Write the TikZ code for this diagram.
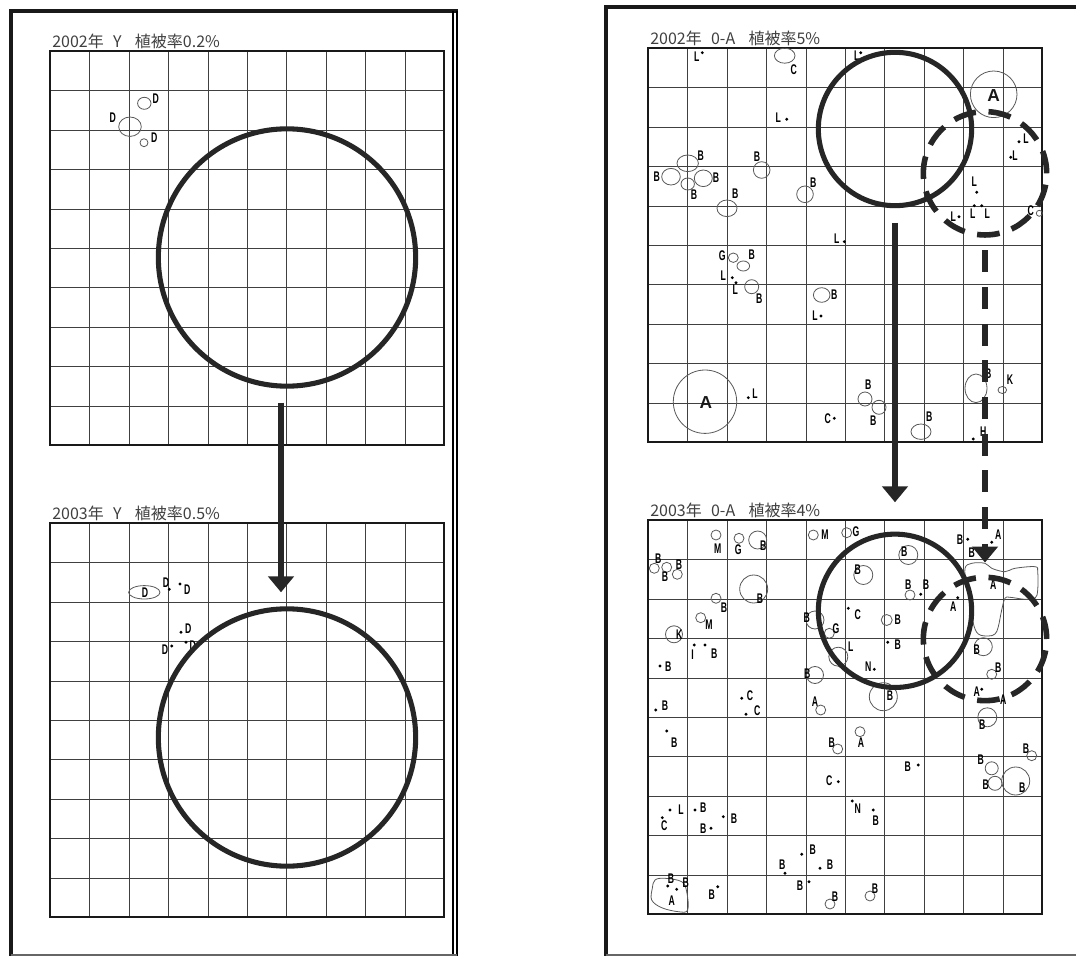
\documentclass[tikz,border=0pt]{standalone}
\usepackage{fontspec}
\setsansfont{Liberation Sans}
\newfontfamily\cjk{Noto Sans CJK JP}
\usetikzlibrary{arrows.meta}

\newcommand{\tg}[1]{\scalebox{0.62}[1]{\bfseries #1}}
\newcommand{\cellgrid}[2]{%
  \foreach \k in {1,...,9} {
    \draw[cell] ({round(#1+\k*39.4)+0.5},#2) -- ++(0,394);
    \draw[cell] (#1,{round(#2+\k*39.4)+0.5}) -- ++(394,0);
  }
  \draw[gridbox] (#1,#2) rectangle ++(394,394);}

\tikzset{
  cell/.style={line width=0.75pt, draw=black!75},
  gridbox/.style={line width=1.5pt, draw=black!90},
  panel/.style={line width=2.4pt, draw=black!90},
  ring/.style={circle, draw=black!85, line width=3.8pt, inner sep=0pt},
  dashring/.style={circle, draw=black!85, line width=4.2pt, inner sep=0pt,
    dash pattern=on 17pt off 9.5pt},
  shaft/.style={line width=4.5pt, draw=black!85,
    -{Triangle[length=12pt,width=19pt]}},
  plant/.style={draw=black!65, line width=0.6pt},
  tag/.style={font=\sffamily\fontsize{10.5}{11}\selectfont, inner sep=0pt, text=black},
  bigtag/.style={font=\sffamily\bfseries\fontsize{13}{14}\selectfont, inner sep=0pt, text=black!90},
  title/.style={font=\cjk\fontsize{12}{13}\selectfont, anchor=base west, inner sep=0pt, text=black!75},
}

\begin{document}
\begin{tikzpicture}[x=0.75pt,y=-0.75pt,line cap=butt]
  \useasboundingbox (0,0) rectangle (1076,956);
  \fill[white] (0,0) rectangle (1076,956);

  % panel frames
  \draw[panel] (11,956) -- (11,11) -- (458,11);
  \draw[line width=0.8pt] (453,11) -- (453,956);
  \draw[line width=0.8pt] (457,11) -- (457,956);
  \draw[line width=0.9pt, draw=black!60] (11,955) -- (457,955);
  \draw[panel] (606,956) -- (606,7) -- (1076,7);
  \draw[line width=0.9pt, draw=black!60] (606,955) -- (1076,955);

  % grids
  \cellgrid{50}{51}
  \cellgrid{50}{523}
  \cellgrid{648}{48}
  \cellgrid{648}{520}

  % titles
  \node[title] (t1) at (52,48) {2002年\hspace{7pt}Y\hspace{10pt}植被率0.2\%};
  \node[title] (t2) at (52,519) {2003年\hspace{7pt}Y\hspace{10pt}植被率0.5\%};
  \node[title] (t3) at (650,45) {2002年\hspace{7pt}0-A\hspace{10pt}植被率5\%};
  \node[title] (t4) at (650,516) {2003年\hspace{7pt}0-A\hspace{10pt}植被率4\%};

  % ---- left panels, species Y
  \foreach \x/\y/\rx/\ry in {130/126.7/11.3/9.7, 144.3/103.3/6.7/6, 144/142.7/4/4,
      144.3/592.3/15.7/6.7}
    \draw[plant] (\x,\y) ellipse [x radius=\rx, y radius=\ry];
  \foreach \x/\y [count=\i] in {169.3/589.3, 180/584, 181/632.3, 171.7/646, 186/642.3}
    \fill (\x,\y) circle [radius=1.6];
  \foreach \x/\y [count=\i] in {112.7/117.3, 155.7/99, 154.3/137.7, 145/592.7, 166/582.7,
      187.3/589.3, 188.3/629, 165/649.3, 192.7/646}
    \node[tag] (d\i) at (\x,\y) {\tg{D}};

  % ---- right top, 2002
  \foreach \x/\y/\rx/\ry in {784.7/55.7/10.3/7.5, 687.7/163.3/10.7/8.3, 671/176.7/9.3/8.3,
      703.3/178.3/9/8.3, 687.7/184/6.7/6, 761.7/170/8.3/8.3, 727/208.3/10/8.3,
      805/194.3/8.3/8.3, 733.3/257.7/5/4.7, 743.3/266/6.3/5, 751.7/286.7/7/7,
      821.7/295/8.3/7.3, 865/399/7/7, 879/407.3/7/7, 921/431.7/10/7.7,
      976/388.3/11/14.3, 1002.3/390/4.3/3.5, 1039.3/213.3/3/3,
      993.7/94.3/23.3/23.3, 705/401.7/31.7/31.7}
    \draw[plant] (\x,\y) ellipse [x radius=\rx, y radius=\ry];
  \foreach \x/\y in {702.3/52.7, 786.7/119.3, 844.3/241.7, 860.7/52.7, 1019/141.7,
      1010.7/157.3, 976.7/192.3, 974.3/205.7, 981.7/205.7, 959/216.7, 732.3/277.7,
      736/282.7, 821/316, 748.3/397.7, 834.3/418.3, 973.3/439}
    \fill (\x,\y) circle [radius=1.6];
  \foreach \x/\y/\s [count=\i] in {696.7/56.7/L, 793.7/69.3/C, 778.3/117.3/L, 700.7/156/B,
      656.7/176.7/B, 716/177.3/B, 694/195/B, 757/156.7/B, 735.3/193.3/B, 813.3/182.7/B,
      836.7/239/L, 856.7/56/L, 1026/139/L, 1015/156/L, 974.3/181.7/L, 972.7/214/L,
      987.3/214/L, 953.3/216.7/L, 1030.7/211/C, 722.3/255.7/G, 751.7/255/B, 723.3/276/L,
      735.3/290/L, 759.3/298.3/B, 834.3/295/B, 815/316/L, 755/393.3/L, 827.7/418.3/C,
      868.3/384.3/B, 873.3/420.7/B, 929.3/416.7/B, 988.3/373.3/B, 1010/380/K, 983.3/431.7/H}
    \node[tag] (p\i) at (\x,\y) {\tg{\s}};
  \node[bigtag] (pa1) at (993.7,96) {A};
  \node[bigtag] (pa2) at (706,402.7) {A};

  % ---- right bottom, 2003
  \foreach \x/\y/\rx/\ry in {716/535/5/5, 739/538.3/5/5, 757.7/540/9/9, 813.3/535/5/5,
      846.7/532.7/5/5, 654.3/568.3/5/5, 666.7/567.3/5/5, 677.3/574.3/5/5, 753.7/589/14/14,
      716/598.3/5/5, 700.7/617.7/5/5, 674/634.3/8.5/8.5, 815/675/8.5/8.5, 815/620/9/9,
      829.3/633.3/5/5, 838.3/656.7/9.5/9.5, 820.7/710/5/5, 908.3/555/9.5/9.5,
      863.3/575/9.5/9.5, 910/595/5/5, 886.7/620/5.5/5.5, 883.3/696.7/14/14,
      983.3/646.7/9/9, 991.7/674.3/5/5, 987.3/717.3/9.5/9.5, 860/731.7/5/5,
      991.7/768.3/6.5/6.5, 995/783.3/7/7, 1015.7/781/14/14, 1031.7/755.7/5/5,
      870/896/5/5, 837.7/749/5/5, 830/904/5/5}
    \draw[plant] (\x,\y) ellipse [x radius=\rx, y radius=\ry];
  \draw[plant] plot[smooth cycle, tension=0.6] coordinates {(965,568.3) (971.7,563.3)
      (985,563.3) (991.7,568.3) (1005,571.7) (1015,568.3) (1035,566.7) (1037.7,571.7)
      (1037.7,590) (1035,598.3) (1025,599.3) (1010,597.3) (1005,598.3) (1001.7,610)
      (998.3,626.7) (995,634) (988.3,636) (978.3,634) (973.3,623.3) (971,603.3) (966.7,585)};
  \draw[plant] plot[smooth cycle, tension=0.6] coordinates {(655,880) (665,878.3)
      (681.7,881.7) (686.7,891.7) (687.7,910) (678.3,911.7) (661.7,907.7) (651.7,900)
      (652.3,888.3)};
  \foreach \x/\y in {694.3/645, 705/645, 660/666, 741.7/698.3, 746/714.3, 655.7/710,
      920.7/594.3, 848.3/608.3, 887.7/642.3, 874.3/669.3, 957.7/597.7, 967.7/539.3,
      991.7/542.3, 981.7/689.3, 918.3/765, 852.3/801, 873.3/810, 666.7/731, 838.3/781.7,
      670/810, 662.3/817.7, 695/810, 711/828.3, 723.3/816.7, 801.7/854.3, 785/873.3,
      820/868.3, 809/881.7, 667.7/886, 676.7/889.3, 717.7/886.7}
    \fill (\x,\y) circle [radius=1.6];
  \foreach \x/\y/\s [count=\i] in {717.7/548.3/M, 738.3/550/G, 763.3/546/B, 825/535/M,
      856/531.7/G, 658.3/558.3/B, 679/564.3/B, 665/576.7/B, 760/598.3/B, 724/607.7/B,
      709/625/M, 679.3/634.3/K, 692.7/654.3/I, 714.3/654/B, 668.3/666.7/B, 807.3/673.3/B,
      806.7/617.7/B, 836/628.3/G, 850.7/646.7/L, 750/696/C, 757.3/710.7/C, 665/706/B,
      815/701.7/A, 904.3/551.7/B, 857.7/570/B, 908.3/585/B, 926/585/B, 857.7/615/C,
      897.7/620/B, 897.7/645/B, 868.3/666.7/N, 890/696/B, 953.3/606.7/A, 960/539.3/B,
      998.3/535/A, 971.7/552.7/B, 993.3/585/A, 976.7/649.3/B, 998.3/667.3/B,
      976.7/691.7/A, 1003.3/700/A, 982.3/724.3/B, 861/742.7/A, 907.7/766.7/B,
      980.7/759.3/B, 985.7/785/B, 1022.3/787.7/B, 1026/748.3/B, 857.7/808.3/N,
      875.7/821/B, 875/888.3/B, 674.3/742.3/B, 831.7/742.7/B, 829.3/781/C, 681/809.3/L,
      664.3/826/C, 703.3/807.7/B, 703.3/828.3/B, 734/818.3/B, 812.7/849.3/B, 782.3/865/B,
      830/864.3/B, 800/885.7/B, 835/896.7/B, 671/878.3/B, 685.7/882.3/B, 671.7/900.7/A,
      711.7/895/B}
    \node[tag] (q\i) at (\x,\y) {\tg{\s}};

  % ---- survey plots and shifts
  \node[ring, minimum size=193pt] (yold) at (287,257.5) {};
  \node[ring, minimum size=193pt] (ynew) at (287,737.5) {};
  \node[ring, minimum size=115pt] (aold) at (895,129) {};
  \node[ring, minimum size=115pt] (anew) at (895,610.8) {};
  \node[dashring, minimum size=92.5pt] (dold) at (985,173.3) {};
  \node[dashring, minimum size=92.5pt] (dnew) at (985,639) {};

  \draw[shaft] ([xshift=-4.5pt,yshift=-10.5pt]yold.south) -- ([xshift=-4.5pt,yshift=10.5pt]ynew.north);
  \draw[shaft] ([yshift=-11pt]aold.south) -- ([yshift=22pt]anew.north);
  \draw[shaft, dash pattern=on 16.5pt off 11pt] ([yshift=-9.5pt]dold.south) -- ([yshift=9pt]dnew.north);
\end{tikzpicture}
\end{document}
